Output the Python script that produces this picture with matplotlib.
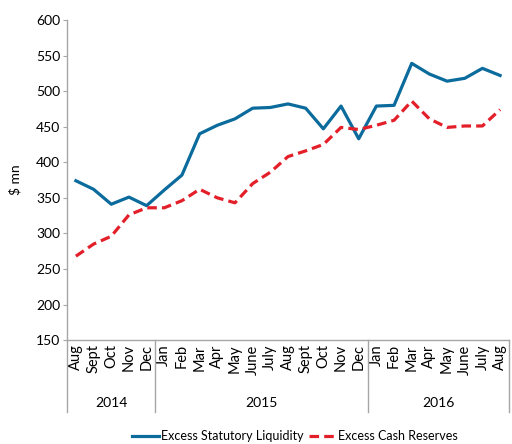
import matplotlib
matplotlib.use("Agg")
import matplotlib.pyplot as plt
import matplotlib.transforms as mtransforms

plt.rcParams['font.family'] = ['Lato', 'DejaVu Sans']

# Data
months = ['Aug', 'Sept', 'Oct', 'Nov', 'Dec',
          'Jan', 'Feb', 'Mar', 'Apr', 'May', 'June', 'July', 'Aug', 'Sept', 'Oct', 'Nov', 'Dec',
          'Jan', 'Feb', 'Mar', 'Apr', 'May', 'June', 'July', 'Aug']
years = ['2014', '2015', '2016']
year_counts = [5, 12, 8]

statutory = [374, 362, 341, 351, 339,
             361, 382, 440, 452, 461, 476, 477, 482, 476, 447, 479, 433,
             479, 480, 539, 524, 514, 518, 532, 522]
cash = [268, 285, 296, 326, 336,
        336, 346, 362, 350, 343, 370, 386, 408, 416, 425, 449, 446,
        452, 459, 486, 461, 449, 451, 451, 474]

blue = '#0a6b9c'
red = '#e3202a'
gray = '#a6a6a6'
fs = 10

fig = plt.figure(figsize=(5.12, 4.44), dpi=100)
ax = fig.add_axes([0.131, 0.234, 0.863, 0.721])

x = list(range(len(months)))
ax.plot(x, statutory, color=blue, lw=2.3, label='Excess Statutory Liquidity')
ax.plot(x, cash, color=red, lw=2.3, dashes=(3, 1.6), label='Excess Cash Reserves')

ax.set_xlim(-0.5, len(months) - 0.5)
ax.set_ylim(150, 600)
ax.set_yticks(range(150, 601, 50))
ax.tick_params(axis='y', labelsize=fs, length=3, color=gray, pad=2)
ax.set_ylabel('$ mn', fontsize=fs, labelpad=10)

ax.set_xticks(x)
ax.set_xticklabels(months, rotation=90, fontsize=10.5)
ax.tick_params(axis='x', length=0, pad=3)

for s in ['top', 'right']:
    ax.spines[s].set_visible(False)
for s in ['left', 'bottom']:
    ax.spines[s].set_color(gray)
    ax.spines[s].set_linewidth(1)

# year groups with separators
trans = mtransforms.blended_transform_factory(ax.transData, ax.transAxes)
start = -0.5
bounds = [start]
for yr, n in zip(years, year_counts):
    mid = start + n / 2
    ax.text(mid, -0.195, yr, transform=trans, ha='center', va='center', fontsize=fs)
    start += n
    bounds.append(start)
for b in bounds:
    ax.plot([b, b], [0, -0.225], transform=trans, color=gray, lw=1, clip_on=False)

fig.legend(loc='center', bbox_to_anchor=(0.576, 0.018), ncol=2, frameon=False,
           fontsize=9, handlelength=2.2, columnspacing=0.5, handletextpad=0.1)

fig.savefig('out.png', dpi=100)
